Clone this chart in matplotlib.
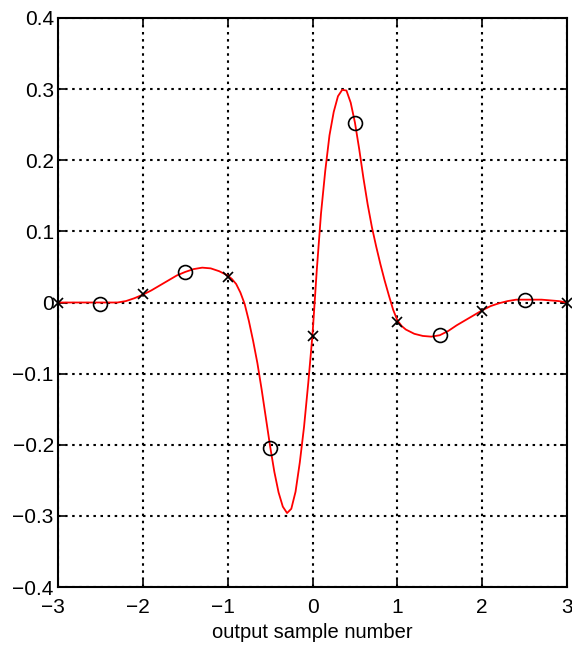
import matplotlib.pyplot as plt
from matplotlib.transforms import ScaledTranslation

# interpolated filter output (red trace)
curve_x = [-3.0, -2.5, -2.3, -2.2, -2.1, -2.0, -1.9, -1.8, -1.7, -1.6,
           -1.5, -1.4, -1.3, -1.2, -1.1, -1.0, -0.95, -0.9, -0.85, -0.8,
           -0.75, -0.7, -0.65, -0.6, -0.55, -0.5, -0.45, -0.4, -0.35, -0.3,
           -0.25, -0.2, -0.15, -0.1, -0.05, 0.0, 0.05, 0.1, 0.15, 0.2,
           0.25, 0.3, 0.35, 0.4, 0.45, 0.5, 0.55, 0.6, 0.65, 0.7,
           0.75, 0.8, 0.85, 0.9, 0.95, 1.0, 1.05, 1.1, 1.2, 1.3,
           1.4, 1.5, 1.6, 1.7, 1.8, 1.9, 2.0, 2.1, 2.2, 2.3,
           2.4, 2.5, 2.7, 2.9, 3.0]
curve_y = [0.0, 0.0, 0.0, 0.002, 0.006, 0.011, 0.017, 0.024, 0.031, 0.038,
           0.043, 0.047, 0.049, 0.048, 0.044, 0.038, 0.033, 0.026, 0.014, -0.002,
           -0.026, -0.054, -0.085, -0.122, -0.162, -0.202, -0.238, -0.267, -0.287, -0.296,
           -0.290, -0.266, -0.225, -0.175, -0.113, -0.045, 0.045, 0.125, 0.185, 0.235,
           0.268, 0.290, 0.299, 0.298, 0.281, 0.253, 0.216, 0.175, 0.138, 0.106,
           0.079, 0.054, 0.031, 0.010, -0.010, -0.025, -0.033, -0.038, -0.044, -0.047,
           -0.048, -0.046, -0.040, -0.032, -0.025, -0.018, -0.011, -0.005, -0.001, 0.002,
           0.004, 0.004, 0.004, 0.002, 0.0]

# samples at integer positions (x) and half-integer positions (o)
int_x = [-3, -2, -1, 0, 1, 2, 3]
int_y = [0.0, 0.012, 0.036, -0.047, -0.027, -0.012, 0.0]
half_x = [-2.5, -1.5, -0.5, 0.5, 1.5, 2.5]
half_y = [-0.002, 0.043, -0.204, 0.253, -0.045, 0.003]

x_ticks = [-3, -2, -1, 0, 1, 2, 3]
y_ticks = [-0.4, -0.3, -0.2, -0.1, 0, 0.1, 0.2, 0.3, 0.4]
y_labels = ['\u22120.4', '\u22120.3', '\u22120.2', '\u22120.1', '0',
            '0.1', '0.2', '0.3', '0.4']

plt.rcParams['font.family'] = ['Liberation Sans', 'DejaVu Sans']

fig = plt.figure(figsize=(5.72, 6.54), dpi=100)
ax = fig.add_axes([0.1014, 0.1024, 0.8899, 0.8701])

ax.plot(curve_x, curve_y, color='red', linewidth=1.3, zorder=3,
        solid_joinstyle='round')
ax.plot(half_x, half_y, linestyle='none', marker='o', markersize=10,
        markerfacecolor='none', markeredgecolor='black', markeredgewidth=1.2, zorder=4)
ax.plot(int_x, int_y, linestyle='none', marker='x', markersize=7,
        color='black', markeredgewidth=1.2, zorder=4, clip_on=False)

ax.set_xlim(-3, 3)
ax.set_ylim(-0.4, 0.4)
ax.set_xticks(x_ticks)
ax.set_xticklabels([str(v).replace('-', '\u2212') for v in x_ticks])
ax.set_yticks(y_ticks)
ax.set_yticklabels(y_labels)
ax.grid(True, color='black', linewidth=1.5, linestyle=(0, (1.2, 2.2)))

for side in ax.spines.values():
    side.set_linewidth(1.5)
    side.set_color('black')
ax.tick_params(direction='in', length=5, width=1.2, labelsize=15,
               top=True, right=True)
ax.tick_params(axis='x', pad=8)
ax.tick_params(axis='y', pad=3)

# negative x labels: keep the digit centred under the tick, minus hangs left
for lab, v in zip(ax.get_xticklabels(), x_ticks):
    if v < 0:
        lab.set_transform(lab.get_transform() +
                          ScaledTranslation(-5 / 100, 0, fig.dpi_scale_trans))

ax.set_xlabel('output sample number', fontsize=14.5, labelpad=4)

plt.savefig('out.png', dpi=100)
